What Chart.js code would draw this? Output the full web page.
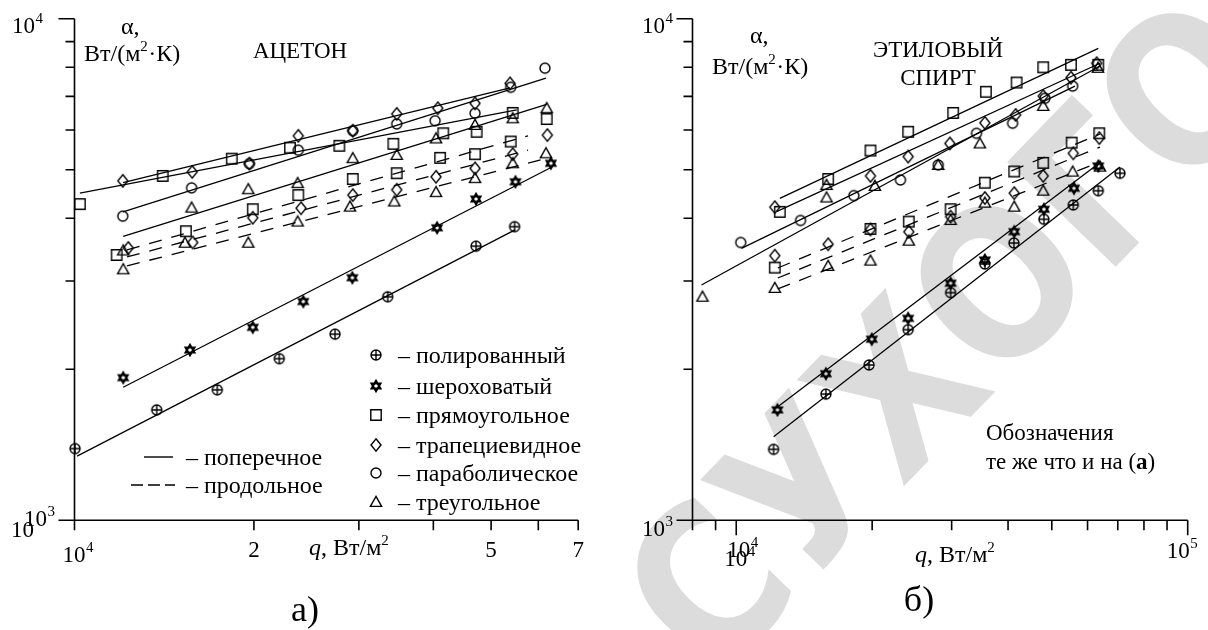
<!DOCTYPE html>
<html>
<head>
<meta charset="utf-8">
<script src="https://cdn.jsdelivr.net/npm/chart.js@4.4.1/dist/chart.umd.min.js"></script>
<style>
  html, body { margin: 0; padding: 0; background: #fff; width: 1208px; height: 630px; overflow: hidden; }
  #wm { position: absolute; left: 0; top: 0; width: 1208px; height: 630px; overflow: hidden; }
  #wm span {
    position: absolute; left: 950px; top: 335px;
    font: bold 180px "DejaVu Sans"; color: #dcdcdc; white-space: nowrap;
    transform: translate(-50%, -50%) rotate(-46deg) scale(1, 1.15);
  }
  canvas { position: absolute; left: 0; top: 0; }
</style>
</head>
<body>
<div id="wm"><span>СУХОГО</span></div>
<canvas id="chartA" width="1208" height="630"></canvas>
<canvas id="chartB" width="1208" height="630"></canvas>
<script>
// ---------- а) ацетон: [q, Вт/м², α, Вт/(м²·К)] ----------
const aceRectT   = [[10210,4270],[14060,4860],[18360,5260],[22990,5530],[27820,5580],[34270,5630],[41570,5910],[47290,5950],[54350,6490],[61980,6310]];
const aceTrapT   = [[12050,4750],[15760,4950],[19650,5140],[23740,5840],[29300,5980],[34720,6460],[40690,6630],[46990,6780],[53790,7430]];
const aceParabT  = [[12050,4040],[15720,4600],[19650,5140],[23740,5470],[29300,5980],[34720,6170],[40270,6260],[46990,6480],[53940,7300],[61570,7970]];
const aceTriT    = [[12070,3450],[15720,4200],[19570,4570],[23680,4700],[29300,5270],[34720,5350],[40420,5770],[46990,6140],[54350,6330],[61980,6630]];
const aceRectL   = [[11770,3380],[15380,3770],[19910,4170],[23740,4450],[29300,4790],[34720,4920],[41060,5280],[46990,5370],[53940,5690]];
const aceTrapL   = [[12310,3490],[15790,3580],[19910,4010],[23990,4190],[29300,4450],[34720,4560],[40420,4840],[46990,5030],[54350,5370],[62130,5860]];
const aceTriL    = [[12070,3165],[15320,3575],[19570,3575],[23680,3940],[28990,4220],[34400,4320],[40420,4510],[46990,4810],[54350,5150],[61810,5390]];
const acePolish  = [[10020,1390],[13740,1660],[17360,1820],[22060,2100],[27360,2350],[33540,2790],[47170,3520],[54750,3850]];
const aceRough   = [[12070,1925],[15620,2185],[19910,2425],[24200,2730],[29250,3045],[40580,3830],[47170,4370],[54930,4730],[62990,5150]];
// fitted lines (end points)
const aceRectTFit  = [[10210,4490],[55200,6580]];
const aceTrapTFit  = [[12060,4710],[53790,7280]];
const aceParabTFit = [[12060,4120],[61810,7610]];
const aceTriTFit   = [[12070,3680],[61980,6750]];
const aceRectLFit  = [[12250,3460],[57670,5840]];
const aceTrapLFit  = [[12250,3350],[57670,5470]];
const aceTriLFit   = [[12250,3214],[62300,5276]];
const acePolishFit = [[10100,1343],[54840,3792]];
const aceRoughFit  = [[12070,1842],[62790,5040]];

// ---------- б) этиловый спирт ----------
const ethRectT   = [[12490,4120],[15980,4790],[19830,5460],[24030,5950],[30230,6490],[35730,7150],[41780,7460],[47860,8000],[55130,8090],[63380,8090]];
const ethTrapT   = [[12170,4210],[19830,4860],[24030,5310],[29730,5640],[35540,6200],[41570,6430],[47860,7010],[55130,7630],[62860,8150]];
const ethParabT  = [[10230,3580],[13880,3960],[18220,4440],[23110,4770],[28010,5110],[34060,5910],[40940,6190],[48270,6940],[55610,7340]];
const ethTriT    = [[8416,2790],[15850,4400],[15850,4660],[20280,4640],[28010,5110],[34640,5640],[47860,6700],[63280,7980]];
const ethRectL   = [[12170,3190],[19830,3810],[24110,3940],[29840,4170],[35540,4710],[41280,4960],[47860,5160],[55330,5660],[63700,5910]];
const ethTrapL   = [[12170,3370],[15980,3550],[19830,3800],[24110,3760],[29840,4030],[35540,4390],[41280,4490],[47860,4860],[55790,5390],[63700,5780]];
const ethTriL    = [[12170,2905],[15980,3214],[19830,3293],[24110,3609],[29840,3969],[35540,4297],[41280,4219],[47860,4540],[55610,4955],[63930,5070]];
const ethRough   = [[12340,1660],[15800,1960],[19960,2296],[24030,2527],[29840,2969],[35540,3304],[41280,3762],[48030,4169],[55980,4591],[63380,5085]];
const ethPolish  = [[12100,1385],[15800,1785],[19690,2040],[24030,2399],[29840,2843],[35540,3243],[41210,3571],[48030,3982],[55790,4252],[63380,4540],[70790,4918]];
const ethRectTFit  = [[12490,4385],[63380,8730]];
const ethTrapTFit  = [[12280,4124],[63930,8150]];
const ethParabTFit = [[10270,3485],[56270,7340]];
const ethTriTFit   = [[8375,2945],[63930,8050]];
const ethRectLFit  = [[12360,3184],[63930,5890]];
const ethTrapLFit  = [[12360,3041],[63930,5548]];
const ethTriLFit   = [[12360,2892],[63930,5180]];
const ethRoughFit  = [[12340,1682],[63930,5170]];
const ethPolishFit = [[12100,1468],[70790,5063]];

// axis ranges and tick values
const alphaRange = [1000, 10000];
const qRangeA = [10000, 70000];
const qRangeB = [8000, 100000];
const alphaMinor = [2000, 3000, 4000, 5000, 6000, 7000, 8000, 9000];
const qTicksA = [10000, 20000, 30000, 40000, 50000, 60000, 70000];
const qTicksB = [8000, 9000, 10000, 20000, 30000, 40000, 50000, 60000, 70000, 80000, 90000, 100000];
const qLabelsA = [[20000, '2'], [50000, '5'], [70000, '7']];

const legendSurfaces = [['polish', 'полированный'], ['rough', 'шероховатый'], ['rect', 'прямоугольное'],
                        ['diamond', 'трапециевидное'], ['circle', 'параболическое'], ['triangle', 'треугольное']];
const legendLines = [['solid', 'поперечное'], ['dashed', 'продольное']];

const SERIF = '"Liberation Serif", "Times New Roman", serif';
const DASH = [13, 10];

// ---------- point markers ----------
function makeMarker(kind) {
  const s = 18, m = s / 2;
  const c = document.createElement('canvas');
  c.width = s; c.height = s;
  const g = c.getContext('2d');
  g.strokeStyle = '#000';
  g.lineWidth = 1.4;
  g.beginPath();
  if (kind === 'rect') {
    g.rect(m - 5.2, m - 5.2, 10.4, 10.4);
  } else if (kind === 'diamond') {
    g.moveTo(m, m - 6.2); g.lineTo(m + 5, m); g.lineTo(m, m + 6.2); g.lineTo(m - 5, m); g.closePath();
  } else if (kind === 'circle') {
    g.arc(m, m, 5, 0, 2 * Math.PI);
  } else if (kind === 'triangle') {
    g.moveTo(m, m - 5.6); g.lineTo(m + 5.6, m + 4.4); g.lineTo(m - 5.6, m + 4.4); g.closePath();
  } else if (kind === 'polish') {
    g.arc(m, m, 5, 0, 2 * Math.PI);
    g.moveTo(m - 5, m); g.lineTo(m + 5, m);
    g.moveTo(m, m - 5); g.lineTo(m, m + 5);
  } else if (kind === 'rough') {
    g.lineWidth = 2;
    const r = 5.2;
    for (const start of [-90, 90]) {
      for (let k = 0; k < 3; k++) {
        const a = (start + k * 120) * Math.PI / 180;
        const px = m + r * Math.cos(a), py = m + r * Math.sin(a);
        if (k === 0) g.moveTo(px, py); else g.lineTo(px, py);
      }
      g.closePath();
    }
  }
  g.stroke();
  return c;
}
const markers = {};
['rect', 'diamond', 'circle', 'triangle', 'polish', 'rough'].forEach(k => markers[k] = makeMarker(k));

const toXY = arr => arr.map(([x, y]) => ({ x, y }));

function pointSet(arr, kind) {
  return { type: 'scatter', data: toXY(arr), pointStyle: markers[kind], pointRadius: 6,
           showLine: false, clip: false };
}
function fitLine(arr, dashed) {
  return { type: 'line', data: toXY(arr), borderColor: '#000', borderWidth: 1.3, pointRadius: 0,
           borderDash: dashed ? DASH : [], fill: false, tension: 0, clip: false };
}

// ---------- text helpers ----------
function txt(ctx, s, x, y, size, align, weight) {
  ctx.font = (weight || '') + ' ' + size + 'px ' + SERIF;
  ctx.textAlign = align || 'left';
  ctx.textBaseline = 'alphabetic';
  ctx.fillStyle = '#000';
  ctx.fillText(s, x, y);
  return ctx.measureText(s).width;
}
// base text with a raised index, e.g. 10^4
function pow(ctx, base, sup, x, y, size, supSize) {
  const w = txt(ctx, base, x, y, size);
  txt(ctx, sup, x + w + 0.5, y - size * 0.42, supSize || Math.round(size * 0.62));
}

// ---------- axes ----------
function drawAxes(chart, qTicks, majorQ) {
  const ctx = chart.ctx, xs = chart.scales.x, ys = chart.scales.y;
  const x0 = xs.getPixelForValue(xs.min), x1 = xs.getPixelForValue(xs.max);
  const yTop = ys.getPixelForValue(alphaRange[1]), yBot = ys.getPixelForValue(alphaRange[0]);
  ctx.save();
  ctx.strokeStyle = '#000';
  ctx.lineWidth = 1.6;
  ctx.beginPath();
  ctx.moveTo(x0, yTop); ctx.lineTo(x0, yBot);
  ctx.moveTo(x0 - 16, yBot); ctx.lineTo(x1, yBot);
  ctx.moveTo(x0 - 16, yTop); ctx.lineTo(x0, yTop);
  alphaMinor.forEach(v => {
    const y = ys.getPixelForValue(v);
    ctx.moveTo(x0 - 9, y); ctx.lineTo(x0, y);
  });
  qTicks.forEach(v => {
    const x = xs.getPixelForValue(v);
    const len = majorQ.includes(v) ? 15 : 10;
    ctx.moveTo(x, yBot); ctx.lineTo(x, yBot + len);
  });
  ctx.stroke();
  ctx.restore();
}

const axesPluginA = {
  id: 'axesA',
  beforeDatasetsDraw(chart) { drawAxes(chart, qTicksA, []); },
  afterDraw(chart) {
    const ctx = chart.ctx, xs = chart.scales.x;
    ctx.save();
    pow(ctx, '10', '4', 12, 33, 23, 15);
    txt(ctx, 'α,', 121, 34, 24);
    let w = txt(ctx, 'Вт/(м', 84, 61, 24);
    txt(ctx, '2', 84 + w, 51, 15);
    txt(ctx, '·К)', 84 + w + 8, 61, 24);
    txt(ctx, 'АЦЕТОН', 300, 58, 23, 'center');
    // tick labels
    pow(ctx, '10', '4', xs.getPixelForValue(10000) - 12, 562, 23, 15);
    qLabelsA.forEach(([v, s]) => txt(ctx, s, xs.getPixelForValue(v), 557, 23, 'center'));
    txt(ctx, '10', 11, 537, 23);
    pow(ctx, '10', '3', 24, 526, 23, 15);
    // axis title
    ctx.font = 'italic 24px ' + SERIF;
    ctx.textAlign = 'left';
    ctx.fillText('q', 309, 555);
    w = txt(ctx, ', Вт/м', 321, 555, 24);
    txt(ctx, '2', 321 + w, 545, 15);
    // legend
    legendSurfaces.forEach(([k, name], i) => {
      const y = [355, 386, 415, 445, 473, 502][i];
      const m = markers[k];
      ctx.drawImage(m, 376 - m.width / 2, y - m.height / 2);
      txt(ctx, '– ' + name, 398, y + 8, 24);
    });
    legendLines.forEach(([style, name], i) => {
      const y = [457, 485][i];
      ctx.save();
      ctx.strokeStyle = '#000'; ctx.lineWidth = 1.4;
      ctx.setLineDash(style === 'dashed' ? [12, 5] : []);
      ctx.beginPath();
      if (style === 'dashed') { ctx.moveTo(131, y); ctx.lineTo(175, y); }
      else { ctx.moveTo(144, y); ctx.lineTo(173, y); }
      ctx.stroke();
      ctx.restore();
      txt(ctx, '– ' + name, 186, y + 8, 24);
    });
    txt(ctx, 'а)', 305, 621, 36, 'center');
    ctx.restore();
  }
};

const axesPluginB = {
  id: 'axesB',
  beforeDatasetsDraw(chart) { drawAxes(chart, qTicksB, [10000, 100000]); },
  afterDraw(chart) {
    const ctx = chart.ctx, xs = chart.scales.x;
    ctx.save();
    pow(ctx, '10', '4', 642, 33, 23, 15);
    txt(ctx, 'α,', 750, 43, 24);
    let w = txt(ctx, 'Вт/(м', 712, 74, 24);
    txt(ctx, '2', 712 + w, 64, 15);
    txt(ctx, '·К)', 712 + w + 8, 74, 24);
    txt(ctx, 'ЭТИЛОВЫЙ', 938, 57, 23, 'center');
    txt(ctx, 'СПИРТ', 938, 85, 23, 'center');
    const x4 = xs.getPixelForValue(10000);
    pow(ctx, '10', '4', x4 - 9, 557, 23, 15);
    pow(ctx, '10', '4', x4 - 12, 566, 23, 15);
    pow(ctx, '10', '5', xs.getPixelForValue(100000) - 21, 558, 23, 15);
    pow(ctx, '10', '3', 642, 536, 23, 15);
    ctx.font = 'italic 24px ' + SERIF;
    ctx.textAlign = 'left';
    ctx.fillText('q', 915, 562);
    w = txt(ctx, ', Вт/м', 927, 562, 24);
    txt(ctx, '2', 927 + w, 552, 15);
    txt(ctx, 'Обозначения', 986, 440, 23);
    w = txt(ctx, 'те же что и на (', 986, 469, 23);
    const wa = txt(ctx, 'а', 986 + w, 469, 23, 'left', 'bold');
    txt(ctx, ')', 986 + w + wa, 469, 23);
    txt(ctx, 'б)', 919, 611, 36, 'center');
    ctx.restore();
  }
};

function baseOptions(qRange, padding) {
  return {
    responsive: false, animation: false, events: [],
    layout: { padding },
    plugins: { legend: { display: false }, tooltip: { enabled: false } },
    scales: {
      x: { type: 'logarithmic', min: qRange[0], max: qRange[1], display: false },
      y: { type: 'logarithmic', min: alphaRange[0], max: alphaRange[1], display: false }
    }
  };
}

new Chart(document.getElementById('chartA'), {
  type: 'scatter',
  data: { datasets: [
    fitLine(aceRectTFit), fitLine(aceTrapTFit), fitLine(aceParabTFit), fitLine(aceTriTFit),
    fitLine(aceRectLFit, true), fitLine(aceTrapLFit, true), fitLine(aceTriLFit, true),
    fitLine(acePolishFit), fitLine(aceRoughFit),
    pointSet(aceRectT, 'rect'), pointSet(aceTrapT, 'diamond'), pointSet(aceParabT, 'circle'), pointSet(aceTriT, 'triangle'),
    pointSet(aceRectL, 'rect'), pointSet(aceTrapL, 'diamond'), pointSet(aceTriL, 'triangle'),
    pointSet(acePolish, 'polish'), pointSet(aceRough, 'rough')
  ] },
  options: baseOptions(qRangeA, { left: 74.5, right: 629.8, top: 18.7, bottom: 109.7 }),
  plugins: [axesPluginA]
});

new Chart(document.getElementById('chartB'), {
  type: 'scatter',
  data: { datasets: [
    fitLine(ethRectTFit), fitLine(ethTrapTFit), fitLine(ethParabTFit), fitLine(ethTriTFit),
    fitLine(ethRectLFit, true), fitLine(ethTrapLFit, true), fitLine(ethTriLFit, true),
    fitLine(ethPolishFit), fitLine(ethRoughFit),
    pointSet(ethRectT, 'rect'), pointSet(ethTrapT, 'diamond'), pointSet(ethParabT, 'circle'), pointSet(ethTriT, 'triangle'),
    pointSet(ethRectL, 'rect'), pointSet(ethTrapL, 'diamond'), pointSet(ethTriL, 'triangle'),
    pointSet(ethPolish, 'polish'), pointSet(ethRough, 'rough')
  ] },
  options: baseOptions(qRangeB, { left: 692.5, right: 20.3, top: 18.7, bottom: 109.7 }),
  plugins: [axesPluginB]
});
</script>
</body>
</html>
